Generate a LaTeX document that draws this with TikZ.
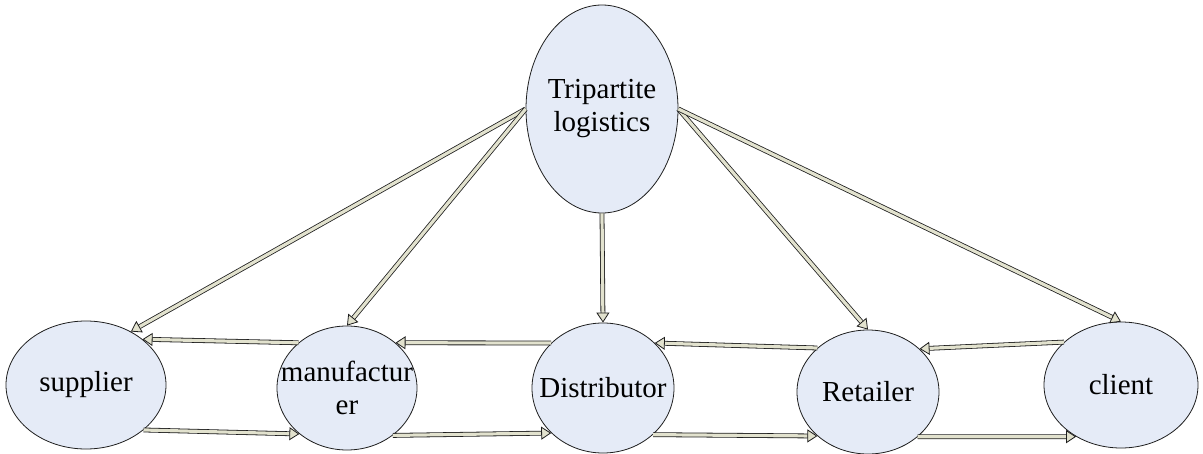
\documentclass[tikz,border=0pt]{standalone}
\usepackage{fontspec}
\setmainfont{Liberation Serif}
\usetikzlibrary{shapes.geometric,arrows.meta}
\definecolor{nodefill}{RGB}{229,235,247}
\definecolor{arrfill}{RGB}{226,226,206}
\definecolor{lineclr}{RGB}{30,30,30}
\tikzset{
  ent/.style={ellipse, draw=lineclr, line width=0.8pt, fill=nodefill,
    inner xsep=-22pt, inner ysep=0pt,
    align=center, font=\fontsize{29}{33}\selectfont},
  arr/.style={draw=lineclr, line width=0.8pt, double=arrfill, double distance=3.2pt,
    -{Triangle[length=10pt,width=13pt,fill=arrfill]}},
}
\begin{document}
\begin{tikzpicture}[x=1pt,y=-1pt]
\useasboundingbox (0,0) rectangle (1203,453);
\node[ent, minimum width=152pt, minimum height=208pt] (T) at (602,109) {Tripartite\\logistics};
\node[ent, minimum width=160pt, minimum height=128pt] (S) at (86,385) {supplier};
\node[ent, minimum width=140pt, minimum height=124pt] (M) at (347,388) {manufactur\\er};
\node[ent, minimum width=142pt, minimum height=130pt] (D) at (603,388) {Distributor};
\node[ent, minimum width=142pt, minimum height=124pt] (R) at (868,392) {Retailer};
\node[ent, minimum width=154pt, minimum height=126pt] (C) at (1121,385) {client};
% from tripartite logistics
\draw[arr] (T.west) -- (S.50);
\draw[arr] (T.west) -- (M.north);
\draw[arr] (T.south) -- (D.north);
\draw[arr] (T.east) -- (R.north);
\draw[arr] (T.east) -- (C.north);
% chain, upper (backward)
\draw[arr] (M.137) -- (S.39);
\draw[arr] (D.139) -- (M.43);
\draw[arr] (R.139) -- (D.41);
\draw[arr] (C.143) -- (R.40);
% chain, lower (forward)
\draw[arr] (S.-38) -- (M.-136);
\draw[arr] (M.-46) -- (D.-139);
\draw[arr] (D.-43) -- (R.-139);
\draw[arr] (R.-42) -- (C.-131);
\end{tikzpicture}
\end{document}
